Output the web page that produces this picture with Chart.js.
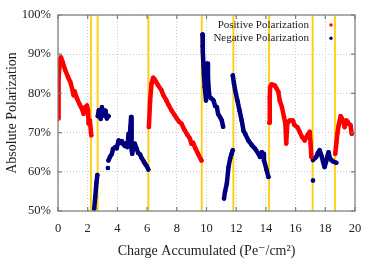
<!DOCTYPE html>
<html>
<head>
<meta charset="utf-8">
<script src="https://cdn.jsdelivr.net/npm/chart.js@4/dist/chart.umd.min.js"></script>
<style>
  html, body { margin: 0; padding: 0; background: #fff; }
  #wrap { width: 374px; height: 262px; }
</style>
</head>
<body>
<div id="wrap"><canvas id="chart-polarization"></canvas></div>
<script>
// Values. null splits separate runs.
const positiveCharge = [
  0.0, 0.04, 0.15, 0.2, 0.31, 0.49, 0.67, 0.83, 0.98, 1.05, 1.12, 1.28, 1.43, 1.61, 1.72, 1.84, 1.95, 2.02, 2.06, 2.15, 2.24, null,
  6.12, 6.2, 6.3, 6.41, 6.5, 6.6, 6.75, 6.97, 7.1, 7.3, 7.45, 7.64, 7.85, 8.0, 8.15, 8.31, 8.5, 8.7, 8.88, 8.98, 9.1, 9.25, 9.43, 9.66, null,
  14.23, 14.26, 14.28, 14.39, 14.61, 14.84, 14.93, 15.08, 15.22, 15.31, 15.37, 15.44, 15.6, 15.82, 15.93, 16.12, 16.27, 16.43, 16.61, 16.79, 16.95, 17.01, 17.06, null,
  18.67, 18.75, 18.81, 18.9, 19.03, 19.12, 19.19, 19.3, 19.41, 19.5, 19.57, 19.7, 19.78
];
const positivePolarization = [
  73.6, 84.2, 88.8, 89.2, 88.0, 85.9, 84.2, 82.9, 80.8, 79.5, 80.5, 78.7, 77.4, 76.1, 74.8, 76.5, 76.9, 75.7, 72.3, 73.1, 69.3, null,
  71.4, 78.0, 82.5, 84.0, 83.6, 83.0, 82.0, 80.8, 79.5, 78.2, 77.0, 75.7, 74.5, 73.6, 72.8, 72.3, 70.8, 69.5, 68.5, 67.2, 67.4, 66.0, 64.6, 62.9, null,
  72.5, 79.0, 81.6, 82.3, 82.0, 80.4, 78.2, 76.5, 74.0, 72.3, 67.2, 72.3, 73.1, 73.1, 71.9, 71.4, 70.2, 68.9, 68.0, 69.3, 70.2, 67.2, 63.8, null,
  64.6, 67.5, 69.7, 71.9, 74.2, 73.6, 73.1, 71.4, 73.1, 72.8, 72.3, 71.9, 69.7
];

const negativeCharge = [
  2.44, 2.51, 2.58, 2.65, null,
  2.68, 2.75, 2.8, 2.88, 2.96, 3.02, 3.1, 3.2, 3.29, 3.4, null,
  3.36, null,
  3.4, 3.5, 3.63, 3.7, 3.85, 3.95, 4.08, 4.2, 4.3, 4.41, 4.5, 4.6, 4.68, 4.75, 4.82, 4.88, 4.92, 4.95, 4.97, 5.0, 5.08, 5.17, 5.3, 5.4, 5.53, 5.62, 5.75, 5.85, 5.98, 6.08, null,
  9.73, 9.74, 9.76, 9.8, 9.82, 9.88, 9.97, null,
  10.05, 10.1, 10.15, 10.2, 10.3, 10.47, 10.58, 10.7, 10.78, 10.9, 11.03, 11.12, null,
  11.18, 11.25, 11.37, 11.48, 11.59, 11.68, 11.77, null,
  11.77, 11.85, 11.93, 12.08, 12.22, 12.37, 12.49, 12.6, 12.82, 13.05, 13.27, 13.5, 13.6, 13.72, 13.83, 13.87, 13.94, 14.05, 14.17, null,
  17.17, null,
  17.17, 17.3, 17.39, 17.5, 17.62, 17.7, 17.77, 17.85, 17.95, 18.05, 18.13, 18.22, 18.3, 18.4, 18.55, 18.74
];
const negativePolarization = [
  50.6, 53.6, 57.0, 59.2, null,
  74.2, 75.7, 74.5, 73.5, 76.5, 75.2, 74.4, 75.6, 73.6, 74.2, null,
  61.0, null,
  62.9, 63.8, 64.6, 65.8, 66.3, 66.0, 68.0, 67.4, 67.8, 67.0, 66.6, 67.3, 66.3, 69.7, 68.0, 71.5, 74.0, 70.0, 65.5, 64.6, 66.8, 67.2, 65.8, 64.8, 64.4, 63.6, 62.8, 62.1, 61.4, 60.6, null,
  95.0, 92.0, 90.6, 87.0, 85.0, 81.6, 78.2, null,
  87.6, 84.0, 81.0, 79.1, 78.8, 78.2, 76.8, 76.5, 74.8, 74.0, 73.1, 71.5, null,
  53.2, 55.0, 57.0, 61.2, 63.3, 64.5, 65.5, null,
  84.6, 82.5, 80.8, 78.2, 75.7, 73.1, 70.5, 69.7, 68.0, 66.8, 65.9, 64.6, 63.8, 65.0, 64.6, 62.9, 62.0, 60.4, 58.7, null,
  57.8, null,
  63.0, 63.5, 63.8, 64.8, 65.5, 64.5, 63.8, 62.5, 61.2, 62.5, 63.8, 65.0, 63.6, 63.0, 62.6, 62.3
];

// charge at which each target anneal / polarization reversal happened
const resetCharges = [2.22, 2.67, 6.09, 9.68, 11.81, 14.21, 17.15, 18.65];

const yRange = [50, 100];

const FONT = '"Liberation Serif", "DejaVu Serif", serif';

function toPoints(xs, ys) {
  return xs.map((x, i) => ({ x: x, y: ys[i] }));
}

function resetLines(xs) {
  const pts = [];
  for (const x of xs) {
    pts.push({ x: x, y: yRange[0] }, { x: x, y: yRange[1] }, { x: x, y: null });
  }
  return pts;
}

// box round the plot with inward tick marks
const framePlugin = {
  id: 'frame',
  afterDatasetsDraw(chart) {
    const { ctx, chartArea: a, scales } = chart;
    ctx.save();
    ctx.strokeStyle = '#7a7a7a';
    ctx.lineWidth = 1.2;
    ctx.strokeRect(a.left, a.top, a.right - a.left, a.bottom - a.top);
    ctx.beginPath();
    scales.x.ticks.forEach(t => {
      const px = scales.x.getPixelForValue(t.value);
      ctx.moveTo(px, a.bottom); ctx.lineTo(px, a.bottom - 4);
      ctx.moveTo(px, a.top); ctx.lineTo(px, a.top + 4);
    });
    scales.y.ticks.forEach(t => {
      const py = scales.y.getPixelForValue(t.value);
      ctx.moveTo(a.left, py); ctx.lineTo(a.left + 4, py);
      ctx.moveTo(a.right, py); ctx.lineTo(a.right - 4, py);
    });
    ctx.stroke();
    ctx.restore();
  }
};

// legend sits inside the plot, text right-aligned, dot on the right
const insideLegend = {
  id: 'insideLegend',
  afterDraw(chart) {
    const { ctx, chartArea: a } = chart;
    const items = chart.data.datasets.filter(d => d.inLegend);
    ctx.save();
    ctx.font = '11px ' + FONT;
    ctx.textAlign = 'right';
    ctx.textBaseline = 'middle';
    items.forEach((d, i) => {
      const y = a.top + 10 + i * 13.3;
      ctx.fillStyle = '#222';
      ctx.fillText(d.label, a.right - 46, y);
      ctx.beginPath();
      ctx.arc(a.right - 24, y, 1.7, 0, Math.PI * 2);
      ctx.fillStyle = d.borderColor;
      ctx.fill();
    });
    ctx.restore();
  }
};

const seriesStyle = {
  borderWidth: 4.5,
  borderJoinStyle: 'round',
  borderCapStyle: 'round',
  pointRadius: 2.2,
  pointBorderWidth: 0,
  tension: 0
};

new Chart(document.getElementById('chart-polarization'), {
  type: 'line',
  data: {
    datasets: [
      Object.assign({
        label: 'Positive Polarization',
        inLegend: true,
        data: toPoints(positiveCharge, positivePolarization),
        borderColor: '#ff0000',
        backgroundColor: '#ff0000',
        order: 1
      }, seriesStyle),
      Object.assign({
        label: 'Negative Polarization',
        inLegend: true,
        data: toPoints(negativeCharge, negativePolarization),
        borderColor: '#00007f',
        backgroundColor: '#00007f',
        order: 2
      }, seriesStyle),
      {
        label: 'resets',
        data: resetLines(resetCharges),
        borderColor: '#ffd21a',
        borderWidth: 2,
        pointRadius: 0,
        order: 3
      }
    ]
  },
  options: {
    responsive: true,
    maintainAspectRatio: false,
    animation: false,
    spanGaps: false,
    layout: { padding: { left: 0, top: 15, right: 19, bottom: 0 } },
    plugins: {
      legend: { display: false },
      tooltip: { enabled: false }
    },
    scales: {
      x: {
        type: 'linear',
        min: 0,
        max: 20,
        afterFit: s => { s.height = 51; },
        ticks: { stepSize: 2, padding: 10, color: '#222', font: { family: FONT, size: 12.5 } },
        grid: { color: '#cccccc', drawTicks: false },
        border: { display: false, dash: [1, 2] },
        title: {
          display: true,
          text: 'Charge Accumulated (Pe\u207B/cm\u00B2)',
          color: '#222',
          font: { family: FONT, size: 14 },
          padding: { top: 0, bottom: 2 }
        }
      },
      y: {
        min: yRange[0],
        max: yRange[1],
        afterFit: s => { s.width = 58; },
        ticks: { stepSize: 10, padding: 7, color: '#222', font: { family: FONT, size: 12.5 }, callback: v => v + '%' },
        grid: { color: '#cccccc', drawTicks: false },
        border: { display: false, dash: [1, 2] },
        title: {
          display: true,
          text: 'Absolute Polarization',
          color: '#222',
          font: { family: FONT, size: 14 },
          padding: { top: 4, bottom: 0 }
        }
      }
    }
  },
  plugins: [framePlugin, insideLegend]
});
</script>
</body>
</html>
